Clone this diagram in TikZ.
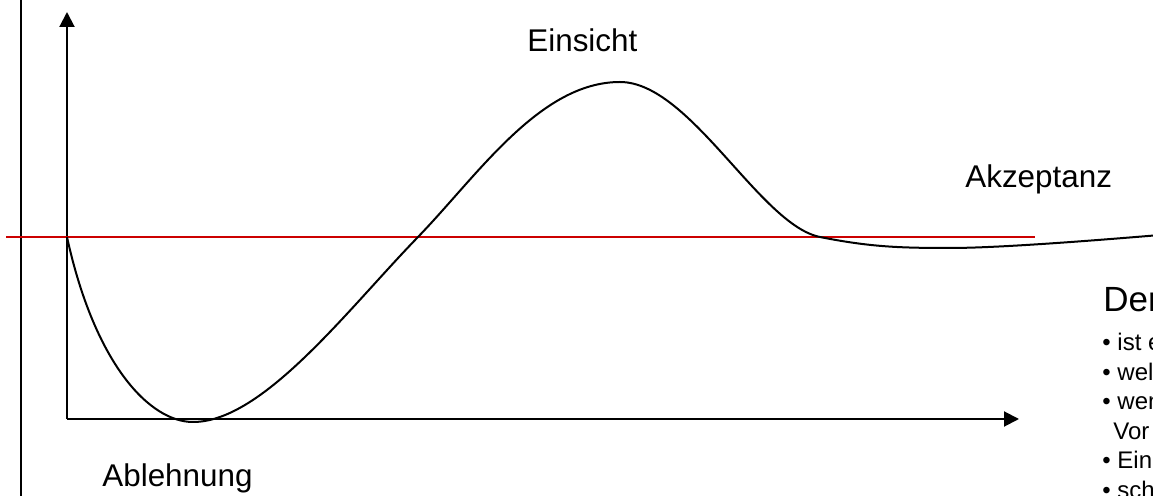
\documentclass[tikz,border=0pt]{standalone}
\usepackage{fontspec}
\setmainfont{Liberation Sans}
\usetikzlibrary{arrows.meta,positioning}
\definecolor{lRed}{RGB}{204,0,0}
\begin{document}
\begin{tikzpicture}[x=0.5pt,y=-0.5pt,font=\fontsize{15.7}{18}\selectfont,
  ax/.style={line width=1pt,-{Triangle[length=7.5pt,width=7.5pt]}},
  lbl/.style={anchor=base west,inner sep=0pt},
  crv/.style={line width=1pt},
  ref/.style={lRed,line width=1pt}]
\useasboundingbox (0,0) rectangle (1153,496);
% ---- frame and axes
\coordinate (ftop) at (21,0);
\coordinate (fbot) at (21,496);
\coordinate (O) at (67,419);
\coordinate (ytop) at (67,12);
\coordinate (xend) at (1019,419);
\draw[line width=1pt] (ftop) -- (fbot);
\draw[ax] (O) -- (ytop);
\draw[ax] (O) -- (xend);
% ---- reference level
\coordinate (rl) at (6,237);
\coordinate (rr) at (1035,237);
\draw[ref] (rl) -- (rr);
% ---- curve
\coordinate (start) at (67,237);
\coordinate (low) at (193,422);
\coordinate (up) at (418,237);
\coordinate (top) at (620,82);
\coordinate (down) at (820,237);
\coordinate (flat) at (950,248);
\coordinate (out) at (1160,235);
\draw[crv] (start) .. controls (95,365) and (150,422) .. (low)
  .. controls (263,422) and (348,309) .. (up)
  .. controls (478,175) and (540,82) .. (top)
  .. controls (690,82) and (760,225) .. (down)
  .. controls (870,247) and (900,248) .. (flat)
  .. controls (1000,248) and (1100,240) .. (out);
% ---- labels
\node[lbl] (eins) at (527,52) {Einsicht};
\node[lbl] (akz) at (965,188) {Akzeptanz};
\node[lbl] (abl) at (102,487) {Ablehnung};
\node[lbl,font=\fontsize{17.5}{20}\selectfont] (der) at (1103,312) {Der};
\node[anchor=north west,inner sep=0pt,align=left,font=\fontsize{12}{14.75}\selectfont] (list) at (1102,333)
  {• ist e\\• wel\\• wen\\\hspace{5.5pt}Vor\\• Ein\\• sch};
\end{tikzpicture}
\end{document}
